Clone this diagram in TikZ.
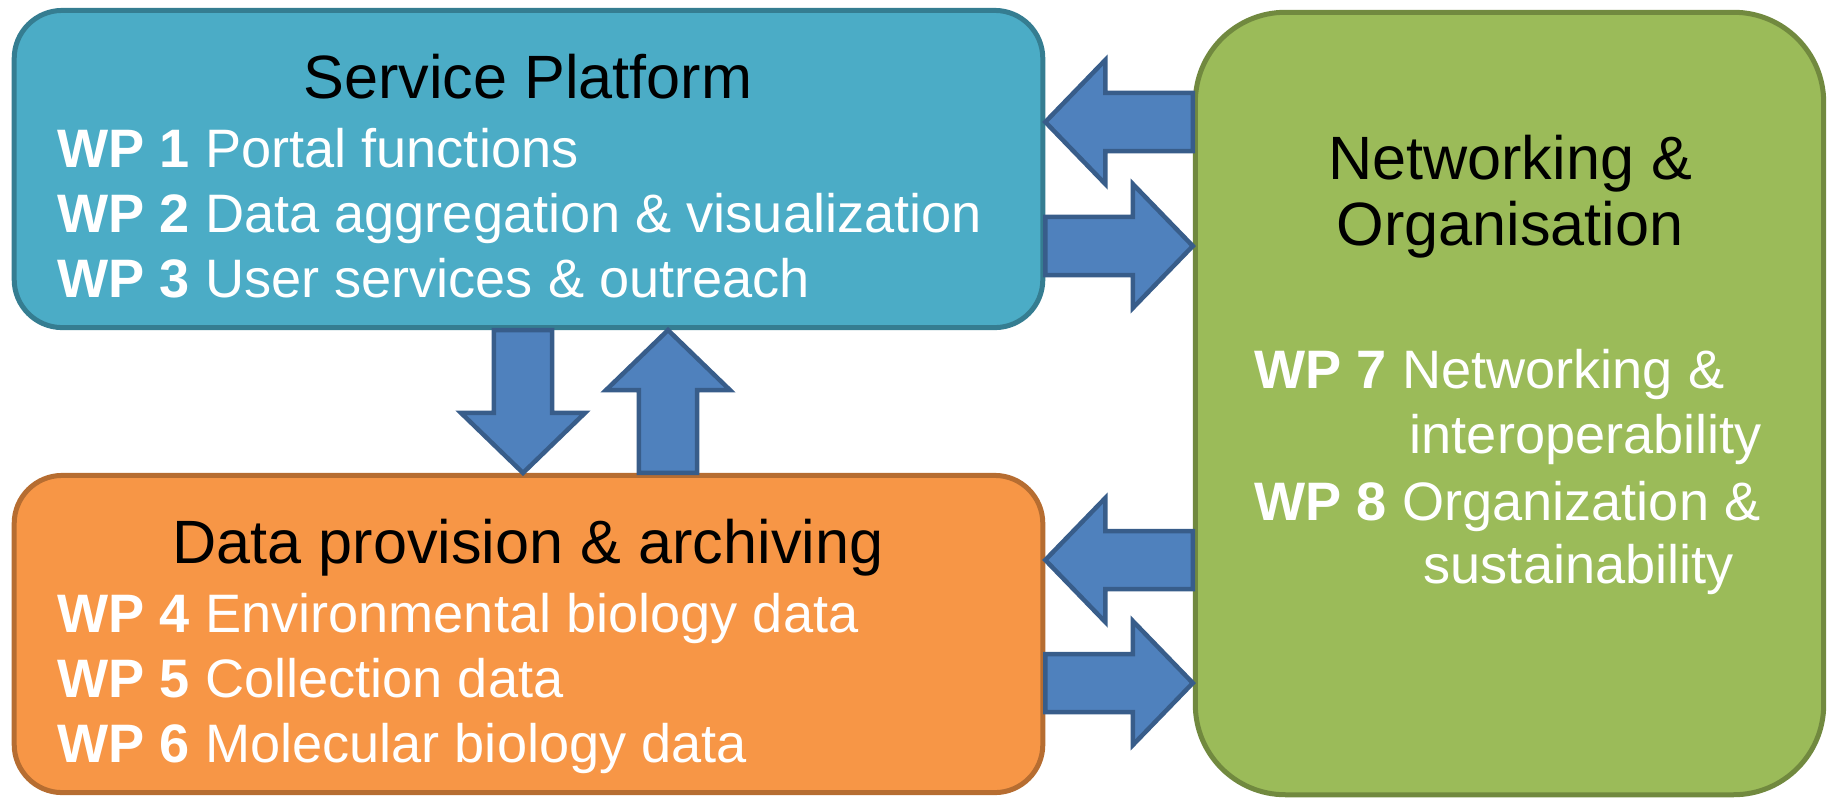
\documentclass[tikz,border=0pt]{standalone}
\usepackage{fontspec}
\setmainfont{Liberation Sans}
\usepackage{tikz}
\usetikzlibrary{calc}
\definecolor{spfill}{HTML}{4BACC6}
\definecolor{spline}{HTML}{357D91}
\definecolor{dpfill}{HTML}{F79646}
\definecolor{dpline}{HTML}{B66D31}
\definecolor{nofill}{HTML}{9BBB59}
\definecolor{noline}{HTML}{71893F}
\definecolor{arrfill}{HTML}{4F81BD}
\definecolor{arrline}{HTML}{385D8A}
\tikzstyle{box} = [rectangle, line width=0.05cm, inner sep=0, rounded corners=0.48cm]
\tikzstyle{boxtitle} = [inner sep=0, anchor=base, font=\fontsize{17.4}{20}\selectfont]
\tikzstyle{wpline} = [inner sep=0, anchor=base west, text=white, font=\fontsize{15.4}{18}\selectfont]
\tikzstyle{arrow} = [draw=arrline, fill=arrfill, line width=0.045cm, line join=miter]
\newcommand{\arrshaft}{0.29cm}
\newcommand{\arrhead}{0.62cm}
\newcommand{\arrlen}{0.6cm}
\newcommand{\blockarrow}[2]{%
  \coordinate (hb) at ($(#2)!\arrlen!(#1)$);
  \path [arrow] ($(#1)!\arrshaft!90:(#2)$) -- ($(hb)!\arrshaft!-90:(#1)$) -- ($(hb)!\arrhead!-90:(#1)$) -- (#2)
    -- ($(hb)!\arrhead!90:(#1)$) -- ($(hb)!\arrshaft!90:(#1)$) -- ($(#1)!\arrshaft!-90:(#2)$) -- cycle;}
\begin{document}
\begin{tikzpicture}[x=0.01cm, y=-0.01cm]
			\useasboundingbox (0,0) rectangle (1831,799);

			% boxes
			\node [box, draw=spline, fill=spfill, minimum width=10.28cm, minimum height=3.17cm] (sp) at (528.5,169) {};
			\node [box, draw=dpline, fill=dpfill, minimum width=10.28cm, minimum height=3.17cm] (dp) at (528.5,634) {};
			\node [box, draw=noline, fill=nofill, minimum width=6.28cm, minimum height=7.82cm, rounded corners=0.9cm] (no) at (1509.5,403.5) {};

			% texts
			\node [boxtitle] (sptitle) at (528,98) {Service Platform};
			\node [wpline] (wp1) at (57,167) {\textbf{WP 1} Portal functions};
			\node [wpline] (wp2) at (57,232) {\textbf{WP 2} Data aggregation \& visualization};
			\node [wpline] (wp3) at (57,297) {\textbf{WP 3} User services \& outreach};

			\node [boxtitle] (dptitle) at (528,563) {Data provision \& archiving};
			\node [wpline] (wp4) at (57,632) {\textbf{WP 4} Environmental biology data};
			\node [wpline] (wp5) at (57,697) {\textbf{WP 5} Collection data};
			\node [wpline] (wp6) at (57,762) {\textbf{WP 6} Molecular biology data};

			\node [boxtitle] (notitle1) at (1510,179) {Networking \&};
			\node [boxtitle] (notitle2) at (1510,245) {Organisation};
			\node [wpline] (wp7) at (1254,388) {\textbf{WP 7} Networking \&};
			\node [wpline] (wp7b) at (1409,453) {interoperability};
			\node [wpline] (wp8) at (1254,520) {\textbf{WP 8} Organization \&};
			\node [wpline] (wp8b) at (1423,583) {sustainability};

			% arrows
			\coordinate (n1) at (no.west |- 0,122);
			\coordinate (s1) at (sp.east |- 0,122);
			\coordinate (s2) at (sp.east |- 0,246);
			\coordinate (n2) at (no.west |- 0,246);
			\coordinate (n3) at (no.west |- 0,560);
			\coordinate (d3) at (dp.east |- 0,560);
			\coordinate (d4) at (dp.east |- 0,683);
			\coordinate (n4) at (no.west |- 0,683);
			\coordinate (s5) at (sp.south -| 523,0);
			\coordinate (d5) at (dp.north -| 523,0);
			\coordinate (d6) at (dp.north -| 668,0);
			\coordinate (s6) at (sp.south -| 668,0);

			\blockarrow{n1}{s1}
			\blockarrow{s2}{n2}
			\blockarrow{n3}{d3}
			\blockarrow{d4}{n4}
			\blockarrow{s5}{d5}
			\blockarrow{d6}{s6}
		\end{tikzpicture}
\end{document}
